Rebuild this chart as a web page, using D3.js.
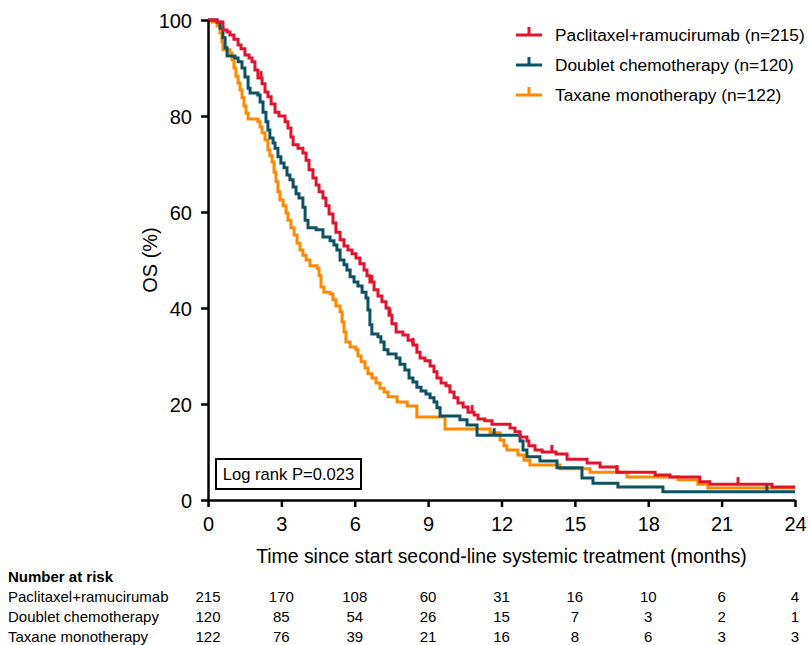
<!DOCTYPE html>
<html>
<head>
<meta charset="utf-8">
<script src="https://cdn.jsdelivr.net/npm/d3@7"></script>
<style>
  body { margin: 0; background: #fff; }
  svg { font-family: Arial, "Liberation Sans", sans-serif; }
</style>
</head>
<body>
<svg id="chart" width="809" height="645"></svg>
<script>
// Kaplan-Meier steps (months, % surviving)
const ramTime = [0, 0.37, 0.61, 0.78, 0.90, 1.06, 1.23, 1.35, 1.51, 1.68, 1.80, 1.92, 2.04, 2.21, 2.33, 2.45, 2.58, 2.74, 2.90, 3.15, 3.27, 3.39, 3.48, 3.68, 3.88, 4.01, 4.13, 4.29, 4.42, 4.54, 4.70, 4.82, 4.95, 5.11, 5.23, 5.40, 5.56, 5.72, 5.89, 6.05, 6.21, 6.38, 6.50, 6.62, 6.79, 6.95, 7.11, 7.28, 7.40, 7.52, 7.69, 7.97, 8.18, 8.38, 8.54, 8.67, 8.87, 9.08, 9.24, 9.36, 9.53, 9.73, 9.89, 10.06, 10.22, 10.43, 10.63, 10.88, 11.04, 11.32, 11.61, 12.35, 12.55, 12.76, 13.04, 13.12, 13.37, 13.66, 14.23, 14.68, 15.50, 16.03, 16.72, 18.28, 18.89, 20.11, 20.52, 23.06];
const ramSurv = [100, 99.6, 97.9, 97.5, 96.9, 96.0, 94.8, 94.0, 92.7, 92.1, 91.3, 89.6, 87.9, 86.7, 85.0, 84.0, 82.5, 80.8, 80.0, 78.8, 77.5, 75.6, 74.0, 73.3, 72.3, 70.8, 68.8, 67.1, 65.6, 64.2, 62.9, 61.3, 59.6, 57.7, 55.8, 54.2, 52.9, 52.1, 51.3, 50.4, 49.2, 47.9, 46.7, 45.4, 43.8, 42.5, 41.3, 40.0, 38.5, 36.7, 35.0, 34.4, 33.3, 32.3, 30.8, 29.6, 29.0, 27.9, 26.7, 25.4, 24.4, 23.8, 22.5, 21.3, 20.2, 19.4, 18.3, 17.7, 16.9, 16.5, 15.8, 15.0, 14.2, 13.1, 12.3, 11.3, 10.4, 10.0, 9.6, 8.5, 7.7, 6.9, 5.8, 5.2, 4.8, 3.8, 3.3, 2.7];

const doubTime = [0, 0.37, 0.49, 0.61, 0.70, 0.78, 1.10, 1.23, 1.39, 1.51, 1.64, 1.72, 2.04, 2.13, 2.25, 2.37, 2.45, 2.53, 2.66, 2.74, 2.86, 2.98, 3.11, 3.23, 3.35, 3.48, 3.60, 3.72, 3.88, 3.97, 4.09, 4.42, 4.70, 4.99, 5.15, 5.27, 5.40, 5.56, 5.68, 5.81, 5.97, 6.13, 6.30, 6.46, 6.54, 6.62, 6.70, 6.95, 7.07, 7.20, 7.36, 7.69, 7.85, 8.05, 8.22, 8.38, 8.54, 8.71, 8.91, 9.08, 9.24, 9.36, 9.49, 10.30, 10.59, 11.00, 12.76, 12.88, 13.04, 13.57, 14.27, 15.29, 15.74, 16.76, 18.60];
const doubSurv = [100, 99.6, 98.3, 96.3, 94.2, 92.5, 92.1, 91.3, 90.0, 88.1, 85.8, 84.8, 84.4, 82.9, 80.8, 78.8, 77.1, 75.4, 74.4, 73.3, 71.5, 70.2, 69.2, 67.7, 66.7, 65.2, 63.8, 62.9, 61.0, 58.3, 56.7, 56.3, 54.8, 54.0, 53.1, 52.1, 50.0, 49.0, 47.9, 46.5, 45.4, 44.6, 43.3, 42.1, 39.6, 36.5, 34.6, 34.0, 32.9, 31.3, 30.4, 29.6, 28.3, 27.1, 25.4, 24.6, 23.5, 22.7, 22.1, 21.3, 20.4, 19.2, 17.5, 16.7, 15.6, 13.5, 12.3, 10.4, 9.0, 8.1, 6.7, 4.6, 3.5, 2.7, 1.7];

const taxTime = [0, 0.16, 0.37, 0.49, 0.57, 0.61, 0.90, 0.98, 1.06, 1.14, 1.23, 1.31, 1.39, 1.47, 1.55, 1.64, 2.04, 2.13, 2.21, 2.33, 2.45, 2.53, 2.62, 2.70, 2.78, 2.86, 2.94, 3.07, 3.19, 3.27, 3.39, 3.52, 3.64, 3.76, 3.88, 4.01, 4.17, 4.46, 4.54, 4.62, 4.74, 4.99, 5.11, 5.23, 5.40, 5.48, 5.56, 5.64, 5.81, 6.05, 6.13, 6.26, 6.42, 6.54, 6.70, 6.87, 7.03, 7.20, 7.36, 7.73, 8.14, 8.54, 9.69, 11.53, 11.94, 12.10, 12.22, 12.67, 12.92, 13.16, 14.39, 15.62, 17.13, 19.22, 20.03, 20.44];
const taxSurv = [100, 99.6, 98.8, 97.3, 95.4, 93.8, 93.1, 91.7, 90.0, 88.3, 86.9, 85.4, 83.8, 82.1, 80.6, 79.4, 78.8, 77.7, 76.5, 75.0, 72.9, 71.7, 70.4, 68.3, 66.3, 64.2, 62.5, 61.3, 59.8, 58.3, 56.7, 55.2, 53.5, 52.1, 51.0, 50.0, 48.8, 48.3, 46.7, 44.4, 43.3, 42.9, 41.7, 40.4, 39.2, 37.1, 35.0, 32.9, 31.9, 31.3, 30.0, 28.8, 27.5, 26.3, 25.4, 24.4, 23.3, 22.5, 21.5, 20.4, 19.6, 17.3, 14.8, 14.0, 12.5, 11.3, 10.4, 9.4, 8.3, 7.3, 6.5, 5.8, 4.8, 4.2, 3.3, 2.5];

// censoring marks (months)
const ramCensor = [2.17, 6.70, 7.44, 8.38, 10.80, 14.06, 16.72, 21.67];
const doubCensor = [11.70, 22.85];
const taxCensor = [];

const seriesNames = ["Paclitaxel+ramucirumab (n=215)", "Doublet chemotherapy (n=120)", "Taxane monotherapy (n=122)"];
const seriesColors = ["#e2142d", "#0c5164", "#ff8a00"];

const xTicks = [0, 3, 6, 9, 12, 15, 18, 21, 24];
const yTicks = [0, 20, 40, 60, 80, 100];

const riskLabels = ["Paclitaxel+ramucirumab", "Doublet chemotherapy", "Taxane monotherapy"];
const riskRam = [215, 170, 108, 60, 31, 16, 10, 6, 4];
const riskDoub = [120, 85, 54, 26, 15, 7, 3, 2, 1];
const riskTax = [122, 76, 39, 21, 16, 8, 6, 3, 3];

const pValueText = "Log rank P=0.023";

const svg = d3.select("#chart");
const margin = { top: 20, left: 208, right: 14 };
const plotW = 795 - margin.left, plotH = 480;

const x = d3.scaleLinear().domain([0, 24]).range([margin.left, margin.left + plotW]);
const y = d3.scaleLinear().domain([0, 100]).range([margin.top + plotH, margin.top]);

const curves = [
  { t: ramTime, s: ramSurv, c: ramCensor },
  { t: doubTime, s: doubSurv, c: doubCensor },
  { t: taxTime, s: taxSurv, c: taxCensor }
];

function stepAt(cv, t) {
  let v = cv.s[0];
  cv.t.forEach((tt, i) => { if (tt <= t) v = cv.s[i]; });
  return v;
}

const line = d3.line()
  .x(d => x(d[0]))
  .y(d => y(d[1]))
  .curve(d3.curveStepAfter);

// draw last series first so red is on top
[2, 1, 0].forEach(i => {
  const cv = curves[i];
  const pts = cv.t.map((t, j) => [t, cv.s[j]]);
  pts.push([24, cv.s[cv.s.length - 1]]);
  svg.append("path")
    .datum(pts)
    .attr("fill", "none")
    .attr("stroke", seriesColors[i])
    .attr("stroke-width", 3)
    .attr("d", line);
  svg.selectAll(null)
    .data(cv.c)
    .enter().append("line")
    .attr("x1", d => x(d)).attr("x2", d => x(d))
    .attr("y1", d => y(stepAt(cv, d)))
    .attr("y2", d => y(stepAt(cv, d)) - 7)
    .attr("stroke", seriesColors[i])
    .attr("stroke-width", 3);
});

// axes
const xAxis = svg.append("g")
  .attr("transform", `translate(0,${margin.top + plotH})`)
  .call(d3.axisBottom(x).tickValues(xTicks).tickSize(7).tickSizeOuter(0));
const yAxis = svg.append("g")
  .attr("transform", `translate(${margin.left},0)`)
  .call(d3.axisLeft(y).tickValues(yTicks).tickSize(7).tickSizeOuter(0));

[xAxis, yAxis].forEach(a => {
  a.select(".domain").attr("stroke", "#000").attr("stroke-width", 2.5);
  a.selectAll(".tick line").attr("stroke", "#000").attr("stroke-width", 2.5);
  a.selectAll(".tick text")
    .attr("fill", "#000")
    .style("font-size", "20px")
    .style("font-family", "Arial, 'Liberation Sans', sans-serif");
});
xAxis.selectAll(".tick text").attr("dy", "1.05em");
yAxis.selectAll(".tick text").attr("x", -16).attr("dy", "0.35em");

svg.append("text")
  .attr("x", (margin.left + 795) / 2)
  .attr("y", 563)
  .attr("text-anchor", "middle")
  .style("font-size", "19.4px")
  .text("Time since start second-line systemic treatment (months)");

svg.append("text")
  .attr("transform", `translate(157,${margin.top + plotH / 2}) rotate(-90)`)
  .attr("text-anchor", "middle")
  .style("font-size", "20px")
  .text("OS (%)");

// legend
const legend = svg.append("g").attr("transform", "translate(516,35)");
seriesNames.forEach((name, i) => {
  const g = legend.append("g").attr("transform", `translate(0,${i * 30})`);
  g.append("line").attr("x1", 0).attr("x2", 26).attr("y1", 0).attr("y2", 0)
    .attr("stroke", seriesColors[i]).attr("stroke-width", 3);
  g.append("line").attr("x1", 13).attr("x2", 13).attr("y1", 0).attr("y2", -8)
    .attr("stroke", seriesColors[i]).attr("stroke-width", 3);
  g.append("text").attr("x", 39).attr("y", 6)
    .style("font-size", "17.3px")
    .text(name);
});

// log rank box
const box = svg.append("g");
box.append("rect")
  .attr("x", 216).attr("y", 459).attr("width", 145).attr("height", 30)
  .attr("fill", "#fff").attr("stroke", "#000").attr("stroke-width", 2);
box.append("text")
  .attr("x", 288.5).attr("y", 480)
  .attr("text-anchor", "middle")
  .style("font-size", "16.6px")
  .text(pValueText);

// number at risk table
const risk = svg.append("g")
  .style("font-size", "15px");
risk.append("text")
  .attr("x", 8).attr("y", 582)
  .style("font-weight", "bold")
  .text("Number at risk");
[riskRam, riskDoub, riskTax].forEach((row, i) => {
  const ry = 602 + i * 20;
  risk.append("text").attr("x", 8).attr("y", ry).text(riskLabels[i]);
  risk.selectAll(null)
    .data(row)
    .enter().append("text")
    .attr("x", (d, j) => x(xTicks[j]))
    .attr("y", ry)
    .attr("text-anchor", "middle")
    .text(d => d);
});
</script>
</body>
</html>
